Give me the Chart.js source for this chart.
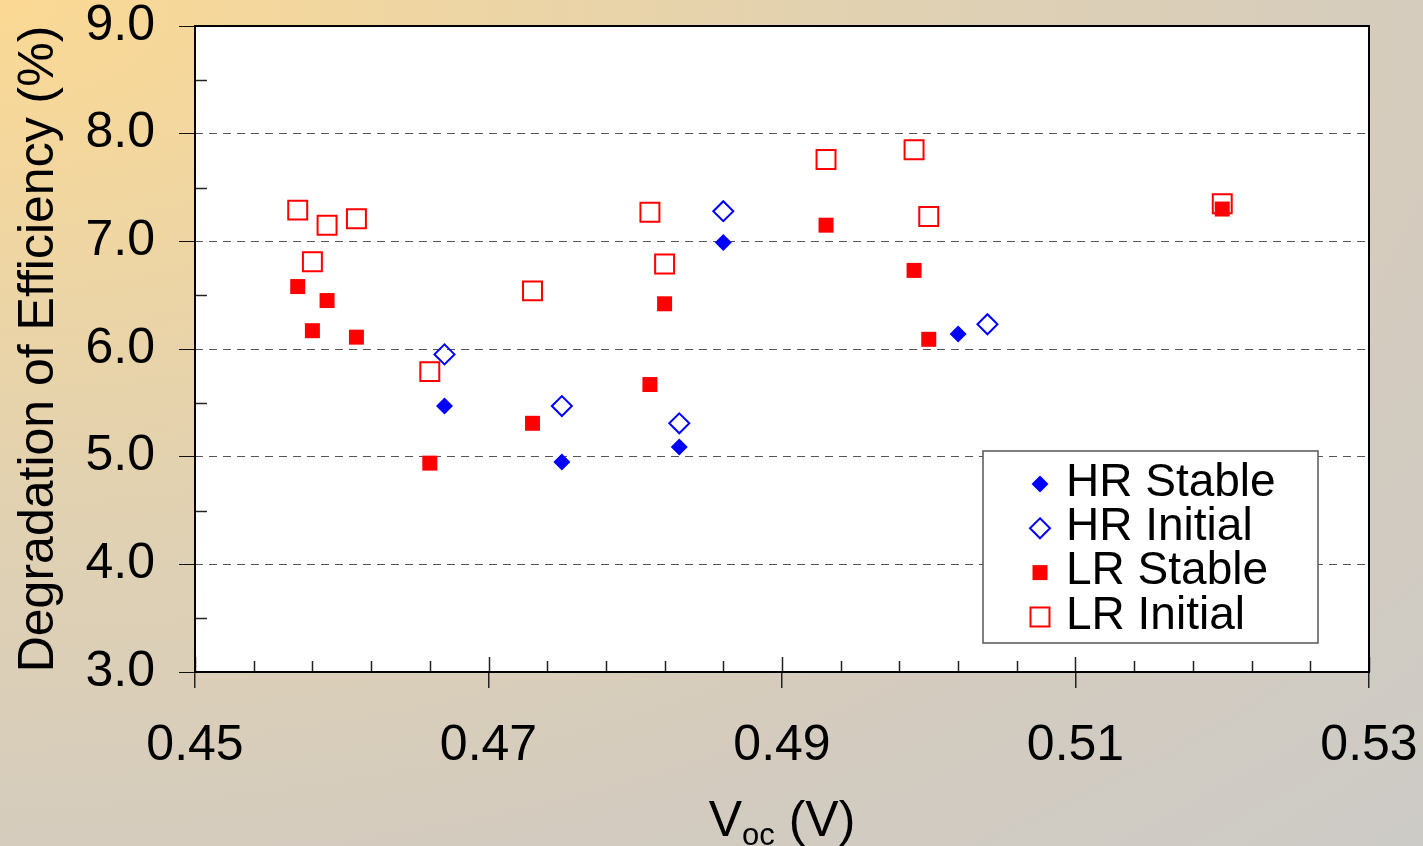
<!DOCTYPE html>
<html>
<head>
<meta charset="utf-8">
<script src="https://cdn.jsdelivr.net/npm/chart.js@4/dist/chart.umd.min.js"></script>
<style>
    html, body {
        margin: 0;
        padding: 0;
    }
    body {
        width: 1423px;
        height: 846px;
        overflow: hidden;
        background: radial-gradient(ellipse farthest-corner at 0% 0%, #fbd994 0%, #e0d1b3 45%, #d3cbbf 75%, #cdcbc7 100%);
    }
    #graph {
        display: block;
    }
</style>
</head>
<body>
<canvas id="graph" width="1423" height="846"></canvas>
<script>
// values
const hrStableVoc = [0.467, 0.475, 0.483, 0.486, 0.502];
const hrStableDeg = [5.47, 4.95, 5.09, 6.99, 6.14];
const hrInitialVoc = [0.467, 0.475, 0.483, 0.486, 0.504];
const hrInitialDeg = [5.95, 5.47, 5.31, 7.28, 6.23];
const lrVoc = [0.457, 0.458, 0.459, 0.461, 0.466, 0.473, 0.481, 0.482, 0.493, 0.499, 0.500, 0.520];
const lrStableDeg = [6.58, 6.17, 6.45, 6.11, 4.94, 5.31, 5.67, 6.42, 7.15, 6.73, 6.09, 7.30];
const lrInitialDeg = [7.29, 6.81, 7.15, 7.21, 5.79, 6.54, 7.27, 6.79, 7.76, 7.85, 7.23, 7.35];

const seriesNames = ['HR Stable', 'HR Initial', 'LR Stable', 'LR Initial'];
const xTickLabels = ['0.45', '0.47', '0.49', '0.51', '0.53'];

const FONT = "'Liberation Sans', Arial, sans-serif";
const BLUE = '#0000ff';
const RED = '#ff0000';

function pairs(xs, ys) {
    return xs.map((x, i) => ({x: x, y: ys[i]}));
}

// marker looks, also used by the legend
const markers = [
    {pointStyle: 'rectRot', radius: 8.5, fill: BLUE, stroke: BLUE, width: 0},
    {pointStyle: 'rectRot', radius: 10, fill: 'transparent', stroke: BLUE, width: 2},
    {pointStyle: 'rect', radius: 10.6, fill: RED, stroke: RED, width: 0},
    {pointStyle: 'rect', radius: 13.4, fill: 'transparent', stroke: RED, width: 2}
];

function drawMarker(ctx, m, x, y) {
    ctx.save();
    ctx.beginPath();
    if (m.pointStyle === 'rectRot') {
        ctx.moveTo(x, y - m.radius);
        ctx.lineTo(x + m.radius, y);
        ctx.lineTo(x, y + m.radius);
        ctx.lineTo(x - m.radius, y);
        ctx.closePath();
    } else {
        const s = m.radius * Math.SQRT1_2;
        ctx.rect(x - s, y - s, 2 * s, 2 * s);
    }
    if (m.fill !== 'transparent') {
        ctx.fillStyle = m.fill;
        ctx.fill();
    }
    if (m.width > 0) {
        ctx.lineWidth = m.width;
        ctx.strokeStyle = m.stroke;
        ctx.stroke();
    }
    ctx.restore();
}

const plotDecor = {
    id: 'plotDecor',
    beforeDraw(chart) {
        const {ctx, chartArea: a} = chart;
        ctx.save();
        ctx.fillStyle = '#ffffff';
        ctx.fillRect(a.left, a.top, a.right - a.left, a.bottom - a.top);
        ctx.restore();
    },
    afterDraw(chart) {
        const {ctx, chartArea: a} = chart;
        const xs = chart.scales.x;
        const ys = chart.scales.y;
        ctx.save();
        ctx.strokeStyle = '#222';
        ctx.lineWidth = 1.5;
        ctx.beginPath();
        // inner ticks on the x axis
        for (let i = 0; i <= 20; i++) {
            const px = Math.round(xs.getPixelForValue(0.45 + i * 0.004)) + 0.5;
            const len = i % 5 === 0 ? 15 : 11;
            ctx.moveTo(px, a.bottom);
            ctx.lineTo(px, a.bottom - len);
        }
        // minor ticks on the y axis
        for (let i = 1; i < 12; i += 2) {
            const py = Math.round(ys.getPixelForValue(3 + i * 0.5)) + 0.5;
            ctx.moveTo(a.left, py);
            ctx.lineTo(a.left + 12, py);
        }
        ctx.stroke();

        // plot frame
        ctx.strokeStyle = '#000';
        ctx.lineWidth = 2;
        ctx.strokeRect(a.left, a.top, a.right - a.left, a.bottom - a.top);

        // x axis title with subscript
        ctx.fillStyle = '#000';
        ctx.textBaseline = 'alphabetic';
        ctx.textAlign = 'left';
        const big = '50px ' + FONT;
        const small = '31px ' + FONT;
        ctx.font = big;
        const wV = ctx.measureText('V').width;
        const wRest = ctx.measureText(' (V)').width;
        ctx.font = small;
        const wSub = ctx.measureText('oc').width;
        let tx = (a.left + a.right) / 2 - (wV + wSub + wRest) / 2;
        ctx.font = big;
        ctx.fillText('V', tx, 836);
        tx += wV;
        ctx.font = small;
        ctx.fillText('oc', tx, 845);
        tx += wSub;
        ctx.font = big;
        ctx.fillText(' (V)', tx, 836);

        // legend box
        const lx = 983, ly = 451, lw = 335, lh = 192;
        ctx.fillStyle = '#ffffff';
        ctx.fillRect(lx, ly, lw, lh);
        ctx.strokeStyle = '#555';
        ctx.lineWidth = 1.5;
        ctx.strokeRect(lx, ly, lw, lh);
        ctx.font = '46px ' + FONT;
        ctx.textBaseline = 'middle';
        ctx.fillStyle = '#000';
        seriesNames.forEach((name, i) => {
            const rowY = 484 + i * 44.3;
            drawMarker(ctx, markers[i], 1040, rowY);
            ctx.fillText(name, 1066, rowY - 1);
        });
        ctx.restore();
    }
};

window.addEventListener('DOMContentLoaded', () => {
    const graph = document.getElementById('graph');
    const allY = [hrStableDeg, hrInitialDeg, lrStableDeg, lrInitialDeg];
    const allX = [hrStableVoc, hrInitialVoc, lrVoc, lrVoc];
    const datasets = seriesNames.map((name, i) => ({
        label: name,
        data: pairs(allX[i], allY[i]),
        pointStyle: markers[i].pointStyle,
        pointRadius: markers[i].radius,
        pointHoverRadius: markers[i].radius,
        pointBackgroundColor: markers[i].fill,
        pointBorderColor: markers[i].stroke,
        pointBorderWidth: markers[i].width
    }));
    // draw LR Initial under LR Stable so the filled square shows through
    datasets[3].order = 1;

    new Chart(graph, {
        type: 'scatter',
        data: {datasets: datasets},
        plugins: [plotDecor],
        options: {
            responsive: false,
            animation: false,
            events: [],
            layout: {padding: {top: 26, right: 54, left: 0, bottom: 0}},
            plugins: {
                legend: {display: false},
                tooltip: {enabled: false}
            },
            scales: {
                x: {
                    type: 'linear',
                    min: 0.45,
                    max: 0.53,
                    afterFit: (scale) => {
                        scale.height = 174;
                        scale.paddingLeft = 0;
                        scale.paddingRight = 0;
                    },
                    ticks: {
                        stepSize: 0.02,
                        padding: 33,
                        color: '#000',
                        font: {family: FONT, size: 50, lineHeight: 1},
                        callback: (v, i) => xTickLabels[i]
                    },
                    grid: {
                        drawOnChartArea: false,
                        tickLength: 16,
                        tickColor: '#222',
                        lineWidth: 1.5
                    },
                    border: {display: false}
                },
                y: {
                    type: 'linear',
                    min: 3,
                    max: 9,
                    afterFit: (scale) => {
                        scale.width = 195;
                        scale.paddingTop = 0;
                        scale.paddingBottom = 0;
                    },
                    ticks: {
                        stepSize: 1,
                        padding: 24,
                        color: '#000',
                        font: {family: FONT, size: 50, lineHeight: 1},
                        callback: (v) => v.toFixed(1)
                    },
                    title: {
                        display: true,
                        text: 'Degradation of Efficiency (%)',
                        color: '#000',
                        font: {family: FONT, size: 50, lineHeight: 1.2},
                        padding: {top: 9, bottom: 0}
                    },
                    grid: {
                        tickLength: 16,
                        tickColor: '#111',
                        lineWidth: 1,
                        color: (c) => (c.tick && c.tick.value > 3 && c.tick.value < 9) ? '#555' : 'transparent'
                    },
                    border: {display: false, dash: [8, 6]}
                }
            }
        }
    });
});
</script>
</body>
</html>
